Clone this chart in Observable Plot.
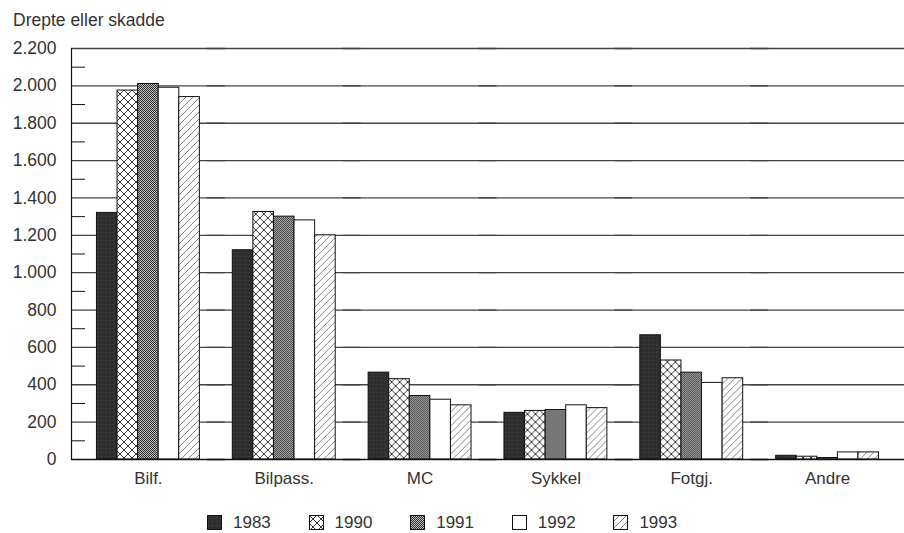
<!DOCTYPE html>
<html><head><meta charset="utf-8">
<script src="https://cdn.jsdelivr.net/npm/d3@7"></script>
<script src="https://cdn.jsdelivr.net/npm/@observablehq/plot@0.6"></script>
<style>
body{margin:0;background:#fff;font-family:"Liberation Sans",Arial,sans-serif;color:#333;width:904px;}
#title{height:38px;box-sizing:border-box;padding:10px 0 0 13px;font-size:17.5px;line-height:20px;}
#legend{display:flex;padding:19px 0 0 207px;height:40px;box-sizing:border-box;font-size:17px;}
#legend .item{width:101.6px;display:flex;align-items:center;}
#legend svg{margin-right:11px;}
</style>
</head><body>
<svg width="0" height="0" style="position:absolute">
<defs>
<pattern id="p1983" patternUnits="userSpaceOnUse" width="4" height="4"><rect width="4" height="4" fill="#2f2f2f"/><rect x="1" y="2" width="1" height="1" fill="#444"/></pattern>
<pattern id="p1990" patternUnits="userSpaceOnUse" width="8" height="8"><rect width="8" height="8" fill="#fff"/><path d="M0,0L8,8M8,0L0,8" stroke="#222" stroke-width="0.9"/></pattern>
<pattern id="p1991" patternUnits="userSpaceOnUse" width="2" height="2"><rect width="2" height="2" fill="#bbb"/><rect width="1" height="1" fill="#333"/><rect x="1" y="1" width="1" height="1" fill="#333"/></pattern>
<pattern id="p1992" patternUnits="userSpaceOnUse" width="4" height="4"><rect width="4" height="4" fill="#fff"/></pattern>
<pattern id="p1993" patternUnits="userSpaceOnUse" width="7" height="7"><rect width="7" height="7" fill="#fff"/><path d="M0,7L7,0M-1,1L1,-1M6,8L8,6" stroke="#777" stroke-width="0.9"/></pattern>
</defs></svg>
<div id="title">Drepte eller skadde</div>
<div id="chart"></div>
<div id="legend"></div>
<script>
const categories = ["Bilf.", "Bilpass.", "MC", "Sykkel", "Fotgj.", "Andre"];
const years = ["1983", "1990", "1991", "1992", "1993"];
const v1983 = [1320, 1120, 465, 250, 665, 20];
const v1990 = [1975, 1325, 430, 260, 530, 15];
const v1991 = [2010, 1300, 340, 265, 465, 8];
const v1992 = [1990, 1280, 320, 290, 410, 38];
const v1993 = [1940, 1200, 290, 275, 435, 38];
const majorTicks = [0, 200, 400, 600, 800, 1000, 1200, 1400, 1600, 1800, 2000, 2200];
const minorTicks = [100, 300, 500, 700, 900, 1100, 1300, 1500, 1700, 1900, 2100];

const series = [v1983, v1990, v1991, v1992, v1993];
const data = [];
categories.forEach((c, i) => years.forEach((y, j) => data.push({cat: c, year: y, value: series[j][i]})));
const fmt = d3.formatLocale({decimal: ",", thousands: ".", grouping: [3], currency: ["", ""]}).format(",");
const font = '"Liberation Sans",Arial,sans-serif';
const W = 904, ML = 80, MR = 9;
const band = (W - ML - MR) / categories.length;

const chart = Plot.plot({
  width: W, height: 455,
  marginLeft: ML, marginRight: MR, marginTop: 10, marginBottom: 34,
  style: {fontFamily: font, fontSize: "17px", color: "#333", background: "white"},
  fx: {domain: categories, paddingInner: 0, paddingOuter: 0, round: false, label: null},
  x: {domain: years, axis: null, paddingInner: 0, paddingOuter: 0.8, round: false},
  y: {domain: [0, 2200], axis: null},
  color: {domain: years, range: years.map(y => `url(#p${y})`)},
  marks: [
    Plot.ruleY(majorTicks.filter(d => d > 0), {insetLeft: -ML + 71, insetRight: -MR, stroke: "#444", strokeWidth: 1.3}),
    Plot.barY(data, {fx: "cat", x: "year", y: "value", fill: "year", stroke: "#111", strokeWidth: 1}),
    Plot.ruleY([0], {insetLeft: -ML + 71, insetRight: -MR, stroke: "#111", strokeWidth: 1.5}),
    Plot.ruleY(minorTicks, {facetAnchor: "left", insetLeft: -ML + 71, insetRight: band - 5, stroke: "#111"}),
    Plot.frame({anchor: "left", facetAnchor: "left", dx: 71 - ML, stroke: "#111", strokeWidth: 1.2}),
    Plot.axisY(majorTicks, {dx: 71 - ML, tickSize: 0, tickPadding: 15, tickFormat: fmt, fill: "#333", fontSize: 17.5, label: null}),
    Plot.axisFx({anchor: "bottom", tickSize: 0, tickPadding: 12, label: null, fill: "#333"})
  ]
});
document.getElementById("chart").append(chart);

const legend = document.getElementById("legend");
years.forEach(y => {
  const item = document.createElement("div");
  item.className = "item";
  item.innerHTML = `<svg width="15" height="15"><rect x="0.5" y="0.5" width="14" height="14" fill="url(#p${y})" stroke="#111"/></svg><span>${y}</span>`;
  legend.append(item);
});
</script>
</body></html>
